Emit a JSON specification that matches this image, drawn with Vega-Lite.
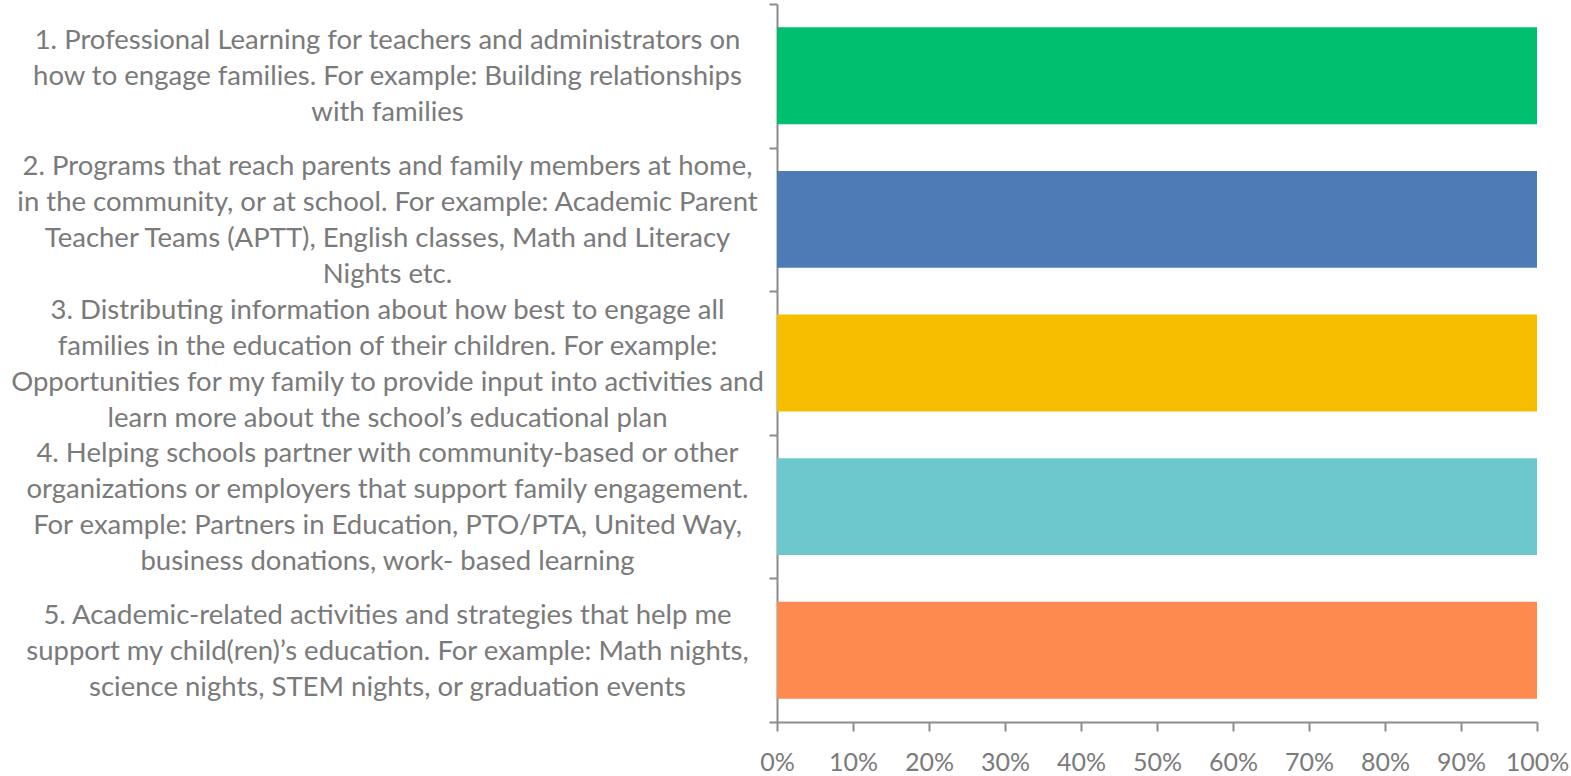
{
  "$schema": "https://vega.github.io/schema/vega-lite/v6.json",
  "width": 760,
  "height": 718,
  "autosize": "none",
  "padding": {"left": 777, "top": 4, "right": 34, "bottom": 54},
  "background": "white",
  "config": {"view": {"stroke": null}, "font": "Lato"},
  "data": {"values": [
    {"item": "1. Professional Learning for teachers and administrators on|how to engage families. For example: Building relationships|with families", "share": 1.0},
    {"item": "2. Programs that reach parents and family members at home,|in the community, or at school. For example: Academic Parent|Teacher Teams (APTT), English classes, Math and Literacy|Nights etc.", "share": 1.0},
    {"item": "3. Distributing information about how best to engage all|families in the education of their children. For example:|Opportunities for my family to provide input into activities and|learn more about the school’s educational plan", "share": 1.0},
    {"item": "4. Helping schools partner with community-based or other|organizations or employers that support family engagement.|For example: Partners in Education, PTO/PTA, United Way,|business donations, work- based learning", "share": 1.0},
    {"item": "5. Academic-related activities and strategies that help me|support my child(ren)’s education. For example: Math nights,|science nights, STEM nights, or graduation events", "share": 1.0}
  ]},
  "mark": {"type": "bar", "height": {"band": 0.675}},
  "encoding": {
    "y": {
      "field": "item", "type": "nominal", "sort": null,
      "scale": {"paddingInner": 0, "paddingOuter": 0},
      "axis": {
        "title": null,
        "labelExpr": "split(datum.label, '|')",
        "labelAlign": "center",
        "labelPadding": 382,
        "labelOffset": {"expr": "-(length(split(datum.label, '|')) - 1) * 18 + 1"},
        "labelFont": "Lato",
        "labelFontSize": 27.5,
        "labelLineHeight": 36,
        "labelColor": "#7a7a7a",
        "labelLimit": 900,
        "tickBand": "extent",
        "tickSize": 8,
        "tickWidth": 2,
        "tickColor": "#8c8c8c",
        "domainColor": "#8c8c8c",
        "domainWidth": 2
      }
    },
    "x": {
      "field": "share", "type": "quantitative",
      "scale": {"domain": [0, 1], "nice": false},
      "axis": {
        "title": null,
        "format": ".0%",
        "values": [0, 0.1, 0.2, 0.3, 0.4, 0.5, 0.6, 0.7, 0.8, 0.9, 1.0],
        "grid": false,
        "labelFont": "Lato",
        "labelFontSize": 25,
        "labelColor": "#7a7a7a",
        "labelPadding": 19,
        "labelFlush": false,
        "tickSize": 9,
        "tickWidth": 2,
        "tickColor": "#8c8c8c",
        "domainColor": "#8c8c8c",
        "domainWidth": 2
      }
    },
    "color": {
      "field": "item", "type": "nominal", "sort": null, "legend": null,
      "scale": {"range": ["#00BF6F", "#4E7AB5", "#F7BE00", "#6CC8CC", "#FF8A50"]}
    }
  }
}
